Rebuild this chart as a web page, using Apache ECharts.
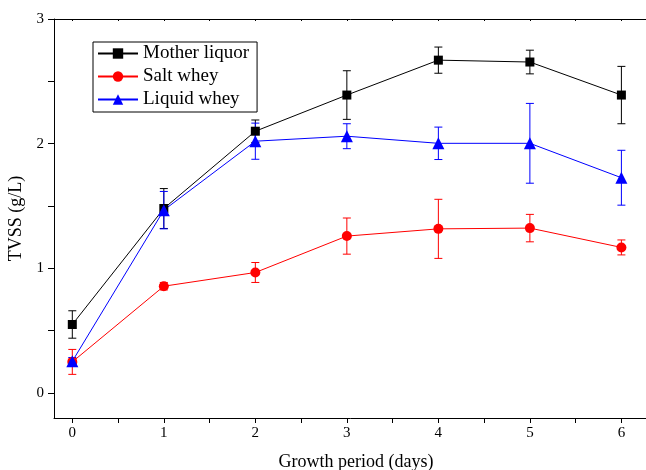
<!DOCTYPE html>
<html>
<head>
<meta charset="utf-8">
<script src="https://cdn.jsdelivr.net/npm/echarts@6/dist/echarts.min.js"></script>
<style>
  html, body { margin: 0; padding: 0; background: #fff; }
  #chart { width: 646px; height: 470px; }
</style>
</head>
<body>
<div id="chart"></div>
<script>
// data
const days = [0, 1, 2, 3, 4, 5, 6]
const motherLiquor = [0.55, 1.48, 2.10, 2.39, 2.67, 2.655, 2.39]
const motherErr = [0.11, 0.16, 0.09, 0.195, 0.105, 0.095, 0.23]
const saltWhey = [0.25, 0.857, 0.967, 1.259, 1.317, 1.323, 1.168]
const saltErr = [0.1, 0.03, 0.08, 0.145, 0.237, 0.11, 0.06]
const liquidWhey = [0.255, 1.467, 2.02, 2.06, 2.003, 2.003, 1.727]
const liquidErr = [0.03, 0.15, 0.145, 0.1, 0.13, 0.32, 0.22]
const xLabels = [0, 1, 2, 3, 4, 5, 6]
const yLabels = [0, 1, 2, 3]
const yTicks = [0, 0.5, 1, 1.5, 2, 2.5, 3]

const FONT = '"Liberation Serif", "DejaVu Serif", serif'
const halfSteps = []
for (let v = 0; v <= 6.01; v += 0.5) halfSteps.push(v)

function points (ys) {
  return days.map((d, i) => [d, ys[i]])
}

function errData (ys, errs) {
  return days.map((d, i) => [d, ys[i] - errs[i], ys[i] + errs[i]])
}

// error bar: vertical line plus two caps
function errorBar (color) {
  return function (params, api) {
    const x = api.value(0)
    const lo = api.coord([x, api.value(1)])
    const hi = api.coord([x, api.value(2)])
    const w = 4
    const style = { stroke: color, lineWidth: 1 }
    return {
      type: 'group',
      children: [
        { type: 'line', shape: { x1: hi[0], y1: hi[1], x2: lo[0], y2: lo[1] }, style },
        { type: 'line', shape: { x1: hi[0] - w, y1: hi[1], x2: hi[0] + w, y2: hi[1] }, style },
        { type: 'line', shape: { x1: lo[0] - w, y1: lo[1], x2: lo[0] + w, y2: lo[1] }, style }
      ]
    }
  }
}

function errSeries (ys, errs, color) {
  return {
    type: 'custom',
    renderItem: errorBar(color),
    encode: { x: 0, y: [1, 2] },
    data: errData(ys, errs),
    silent: true,
    clip: false
  }
}

function lineSeries (name, ys, color, symbol, size) {
  return {
    name: name,
    type: 'line',
    data: points(ys),
    symbol: symbol,
    symbolSize: size,
    color: color,
    lineStyle: { color: color, width: 1 },
    itemStyle: { color: color },
    animation: false
  }
}

const chart = echarts.init(document.getElementById('chart'))

const option = {
  animation: false,
  backgroundColor: '#fff',
  grid: { left: 54, top: 19, width: 604, height: 399, containLabel: false, outerBoundsMode: 'none' },
  legend: {
    data: ['Mother liquor', 'Salt whey', 'Liquid whey'],
    orient: 'vertical',
    left: 93,
    top: 42,
    padding: [2, 8, 3, 4],
    itemWidth: 40,
    itemHeight: 13,
    itemGap: 4,
    borderColor: '#000',
    borderWidth: 1,
    borderRadius: 0,
    textStyle: { fontFamily: FONT, fontSize: 19, lineHeight: 18, color: '#000' }
  },
  xAxis: [
    {
      type: 'value',
      min: -0.2,
      max: 6.4,
      name: 'Growth period (days)',
      nameLocation: 'middle',
      nameGap: 35,
      nameTextStyle: { fontFamily: FONT, fontSize: 18, color: '#000' },
      axisLine: { onZero: false, lineStyle: { color: '#000', width: 1 } },
      axisTick: { length: 5, lineStyle: { color: '#000' }, customValues: halfSteps },
      axisLabel: { customValues: xLabels, fontFamily: FONT, fontSize: 15, color: '#000', margin: 8 },
      splitLine: { show: false }
    },
    {
      type: 'value',
      position: 'top',
      min: -0.2,
      max: 6.4,
      axisLine: { onZero: false, lineStyle: { color: '#000', width: 1 } },
      axisTick: { inside: true, length: 2, lineStyle: { color: '#000' }, customValues: halfSteps },
      axisLabel: { show: false },
      splitLine: { show: false }
    }
  ],
  yAxis: {
    type: 'value',
    min: -0.2,
    max: 3,
    name: 'TVSS (g/L)',
    nameLocation: 'middle',
    nameGap: 29,
    nameTextStyle: { fontFamily: FONT, fontSize: 18, color: '#000' },
    axisLine: { show: true, onZero: false, lineStyle: { color: '#000', width: 1 } },
    axisTick: { show: true, length: 6, lineStyle: { color: '#000' }, customValues: yTicks },
    axisLabel: { customValues: yLabels, fontFamily: FONT, fontSize: 15, color: '#000', margin: 10 },
    splitLine: { show: false }
  },
  series: [
    errSeries(motherLiquor, motherErr, '#000'),
    lineSeries('Mother liquor', motherLiquor, '#000', 'rect', 9),
    errSeries(saltWhey, saltErr, '#ff0000'),
    lineSeries('Salt whey', saltWhey, '#ff0000', 'circle', 10),
    errSeries(liquidWhey, liquidErr, '#0000ff'),
    lineSeries('Liquid whey', liquidWhey, '#0000ff', 'triangle', 12)
  ]
}

chart.setOption(option)
</script>
</body>
</html>
